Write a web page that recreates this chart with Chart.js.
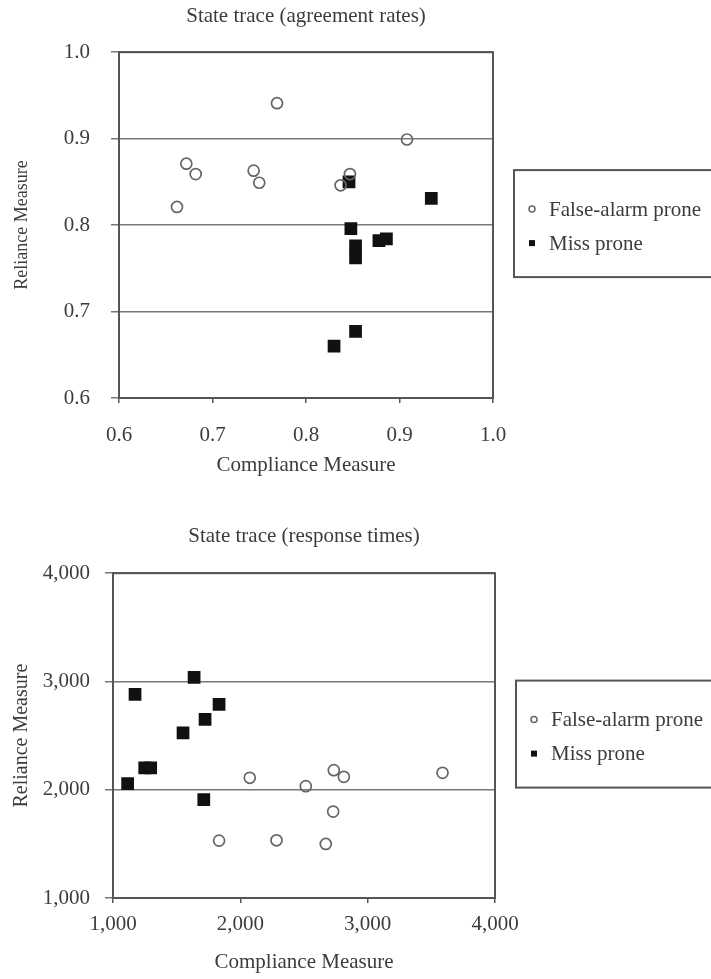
<!DOCTYPE html>
<html>
<head>
<meta charset="utf-8">
<title>State trace</title>
<script src="https://cdn.jsdelivr.net/npm/chart.js@4.4.1/dist/chart.umd.min.js"></script>
<style>
  html, body { margin: 0; padding: 0; background: #fff; }
  .panel { position: absolute; left: 0; width: 711px; }
  #top-panel { top: 0; height: 490px; }
  #bottom-panel { top: 490px; height: 489px; }
</style>
</head>
<body>
<div class="panel" id="top-panel"><canvas id="agreeChart"></canvas></div>
<div class="panel" id="bottom-panel"><canvas id="rtChart"></canvas></div>
<script>
// agreement rates (top panel)
const faComplianceAgree = [0.769, 0.908, 0.672, 0.682, 0.744, 0.750, 0.847, 0.837, 0.662]
const faRelianceAgree = [0.941, 0.899, 0.871, 0.859, 0.863, 0.849, 0.859, 0.846, 0.821]
const missComplianceAgree = [0.846, 0.934, 0.848, 0.878, 0.886, 0.853, 0.853, 0.853, 0.830]
const missRelianceAgree = [0.850, 0.831, 0.796, 0.782, 0.784, 0.776, 0.762, 0.677, 0.660]
const agreeTicks = [0.6, 0.7, 0.8, 0.9, 1.0]

// response times (bottom panel)
const faComplianceRT = [2074, 2514, 2734, 2813, 3588, 2729, 1833, 2284, 2671]
const faRelianceRT = [2110, 2033, 2181, 2119, 2156, 1798, 1530, 1533, 1499]
const missComplianceRT = [1173, 1637, 1833, 1723, 1550, 1249, 1296, 1115, 1713]
const missRelianceRT = [2881, 3038, 2788, 2649, 2526, 2202, 2202, 2057, 1909]
const rtTicks = [1000, 2000, 3000, 4000]

const seriesNames = ['False-alarm prone', 'Miss prone']

const SERIF = "'Liberation Serif', 'Times New Roman', serif"
const TEXT = '#3c3c3c'
const AXIS = '#555'

function toPoints(xs, ys) {
  return xs.map((x, i) => ({ x, y: ys[i] }))
}

// box round the plot area (top and right edges)
const frame = {
  id: 'frame',
  beforeDatasetsDraw(chart) {
    const { ctx, chartArea: a } = chart
    ctx.save()
    ctx.strokeStyle = AXIS
    ctx.lineWidth = 2
    ctx.strokeRect(a.left, a.top, a.right - a.left, a.bottom - a.top)
    ctx.restore()
  }
}

// legend in a framed box to the right of the plot
const boxLegend = {
  id: 'boxLegend',
  afterDraw(chart) {
    const { ctx, chartArea: a } = chart
    const left = a.right + 21
    const top = (a.top + a.bottom) / 2 - 55
    ctx.save()
    ctx.strokeStyle = AXIS
    ctx.lineWidth = 2
    ctx.strokeRect(left, top, 260, 107)
    ctx.font = `21px ${SERIF}`
    ctx.fillStyle = TEXT
    ctx.textBaseline = 'middle'
    chart.data.datasets.forEach((ds, i) => {
      const y = top + 39 + i * 34
      const x = left + 18
      if (ds.pointStyle === 'circle') {
        ctx.beginPath()
        ctx.arc(x, y, 3, 0, Math.PI * 2)
        ctx.lineWidth = 1.5
        ctx.strokeStyle = ds.borderColor
        ctx.stroke()
      } else {
        ctx.fillStyle = ds.backgroundColor
        ctx.fillRect(x - 3, y - 3, 6, 6)
      }
      ctx.fillStyle = TEXT
      ctx.fillText(ds.label, left + 35, y + 1)
    })
    ctx.restore()
  }
}

function buildChart(canvasId, cfg) {
  const ctx = document.getElementById(canvasId)
  if (!ctx) {
    console.error('canvas not found', canvasId)
    return
  }
  return new Chart(ctx, {
    type: 'scatter',
    data: {
      datasets: [
        {
          label: seriesNames[0],
          data: cfg.fa,
          pointStyle: 'circle',
          pointRadius: 5.5,
          pointHoverRadius: 5.5,
          borderWidth: 1.7,
          borderColor: '#666',
          backgroundColor: 'rgba(255,255,255,0)'
        },
        {
          label: seriesNames[1],
          data: cfg.miss,
          pointStyle: 'rect',
          pointRadius: 9,
          pointHoverRadius: 9,
          borderWidth: 0,
          borderColor: '#111',
          backgroundColor: '#111'
        }
      ]
    },
    options: {
      responsive: true,
      maintainAspectRatio: false,
      animation: false,
      events: [],
      layout: { padding: { left: 0, right: cfg.rightPad, top: 0, bottom: 0 } },
      plugins: {
        legend: { display: false },
        tooltip: { enabled: false },
        title: {
          display: true,
          fullSize: false,   // centre over the plot, not the whole canvas
          text: cfg.title,
          color: TEXT,
          font: { family: SERIF, size: 21, weight: 'normal' },
          padding: cfg.titlePad
        }
      },
      scales: {
        x: {
          type: 'linear',
          min: cfg.ticks[0],
          max: cfg.ticks[cfg.ticks.length - 1],
          afterBuildTicks: s => { s.ticks = cfg.ticks.map(v => ({ value: v })) },
          afterFit: s => { s.height = cfg.xHeight },
          grid: { drawOnChartArea: false, tickLength: 5, color: AXIS, lineWidth: 1.5 },
          border: { color: AXIS, width: 2 },
          ticks: {
            color: TEXT,
            font: { family: SERIF, size: 21 },
            padding: cfg.xTickPad,
            maxRotation: 0,
            callback: cfg.fmt
          },
          title: {
            display: true,
            text: 'Compliance Measure',
            color: TEXT,
            font: { family: SERIF, size: 21 },
            padding: { top: 0, bottom: cfg.xTitlePad }
          }
        },
        y: {
          type: 'linear',
          min: cfg.ticks[0],
          max: cfg.ticks[cfg.ticks.length - 1],
          afterBuildTicks: s => { s.ticks = cfg.ticks.map(v => ({ value: v })) },
          afterFit: s => { s.width = cfg.yWidth },
          grid: { tickLength: 8, color: '#777', lineWidth: 1.5 },
          border: { color: AXIS, width: 2 },
          ticks: {
            color: TEXT,
            font: { family: SERIF, size: 21 },
            padding: cfg.yTickPad,
            callback: cfg.fmt
          },
          title: {
            display: true,
            text: 'Reliance Measure',
            color: TEXT,
            font: { family: SERIF, size: cfg.yTitleSize },
            padding: { top: cfg.yTitlePad, bottom: 0 }
          }
        }
      }
    },
    plugins: [frame, boxLegend]
  })
}

buildChart('agreeChart', {
  title: 'State trace (agreement rates)',
  fa: toPoints(faComplianceAgree, faRelianceAgree),
  miss: toPoints(missComplianceAgree, missRelianceAgree),
  ticks: agreeTicks,
  fmt: v => Number(v).toFixed(1),
  rightPad: 218,
  titlePad: { top: 4, bottom: 23 },
  xHeight: 92,
  xTickPad: 20,
  xTitlePad: 12,
  yWidth: 119,
  yTickPad: 21,
  yTitleSize: 18,
  yTitlePad: 11
})

buildChart('rtChart', {
  title: 'State trace (response times)',
  fa: toPoints(faComplianceRT, faRelianceRT),
  miss: toPoints(missComplianceRT, missRelianceRT),
  ticks: rtTicks,
  fmt: v => Number(v).toLocaleString('en-US'),
  rightPad: 216,
  titlePad: { top: 34, bottom: 24 },
  xHeight: 81,
  xTickPad: 9,
  xTitlePad: 4,
  yWidth: 113,
  yTickPad: 15,
  yTitleSize: 20,
  yTitlePad: 10
})
</script>
</body>
</html>
